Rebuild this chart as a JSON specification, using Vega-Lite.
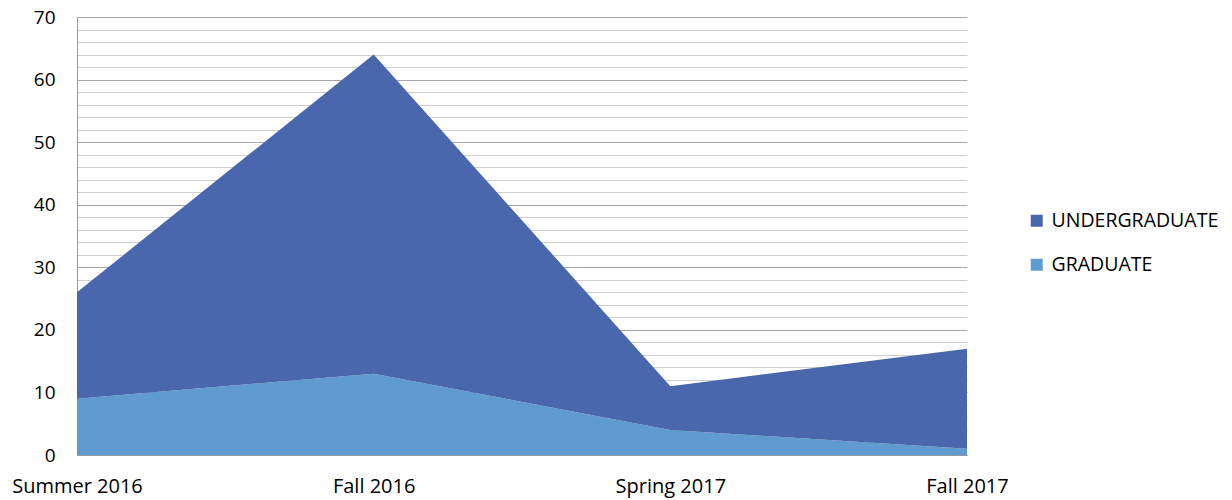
{
  "$schema": "https://vega.github.io/schema/vega-lite/v6.json",
  "width": 890,
  "height": 438,
  "autosize": {"type": "none"},
  "padding": {"left": 77, "top": 17, "right": 265, "bottom": 45},
  "background": "white",
  "config": {
    "view": {"stroke": null},
    "font": "Open Sans"
  },
  "data": {
    "values": [
      {"term": "Summer 2016", "level": "GRADUATE", "count": 9},
      {"term": "Fall 2016", "level": "GRADUATE", "count": 13},
      {"term": "Spring 2017", "level": "GRADUATE", "count": 4},
      {"term": "Fall 2017", "level": "GRADUATE", "count": 1},
      {"term": "Summer 2016", "level": "UNDERGRADUATE", "count": 17},
      {"term": "Fall 2016", "level": "UNDERGRADUATE", "count": 51},
      {"term": "Spring 2017", "level": "UNDERGRADUATE", "count": 7},
      {"term": "Fall 2017", "level": "UNDERGRADUATE", "count": 16}
    ]
  },
  "mark": {"type": "area", "interpolate": "linear"},
  "encoding": {
    "x": {
      "field": "term",
      "type": "ordinal",
      "sort": ["Summer 2016", "Fall 2016", "Spring 2017", "Fall 2017"],
      "scale": {"type": "point", "padding": 0},
      "axis": {
        "title": null,
        "labelAngle": 0,
        "labelFontSize": 20,
        "labelColor": "#000000",
        "labelPadding": 21,
        "ticks": false,
        "domainColor": "#999999",
        "labelFlush": false,
        "labelBound": false,
        "labelOverlap": false,
        "grid": false
      }
    },
    "y": {
      "field": "count",
      "type": "quantitative",
      "stack": "zero",
      "scale": {"domain": [0, 70], "nice": false},
      "axis": {
        "title": null,
        "values": [0, 2, 4, 6, 8, 10, 12, 14, 16, 18, 20, 22, 24, 26, 28, 30, 32, 34, 36, 38, 40, 42, 44, 46, 48, 50, 52, 54, 56, 58, 60, 62, 64, 66, 68, 70],
        "labelExpr": "datum.value % 10 === 0 ? datum.label : ''",
        "labelFontSize": 19,
        "labelColor": "#000000",
        "labelPadding": 22,
        "ticks": false,
        "domainColor": "#999999",
        "grid": true,
        "gridColor": {"condition": {"test": "datum.value % 10 === 0", "value": "#a6a6a6"}, "value": "#cfcfcf"},
        "gridWidth": 1.2
      }
    },
    "color": {
      "field": "level",
      "type": "nominal",
      "scale": {"domain": ["UNDERGRADUATE", "GRADUATE"], "range": ["#4a66ac", "#5f9bd0"]},
      "legend": {
        "title": null,
        "orient": "none",
        "legendX": 950,
        "legendY": 194,
        "symbolType": "square",
        "symbolSize": 144,
        "symbolStrokeWidth": 0,
        "labelFontSize": 19.5,
        "labelLimit": 300,
        "labelColor": "#000000",
        "rowPadding": 23,
        "labelOffset": 5
      }
    },
    "order": {"field": "level", "sort": "ascending"}
  }
}
